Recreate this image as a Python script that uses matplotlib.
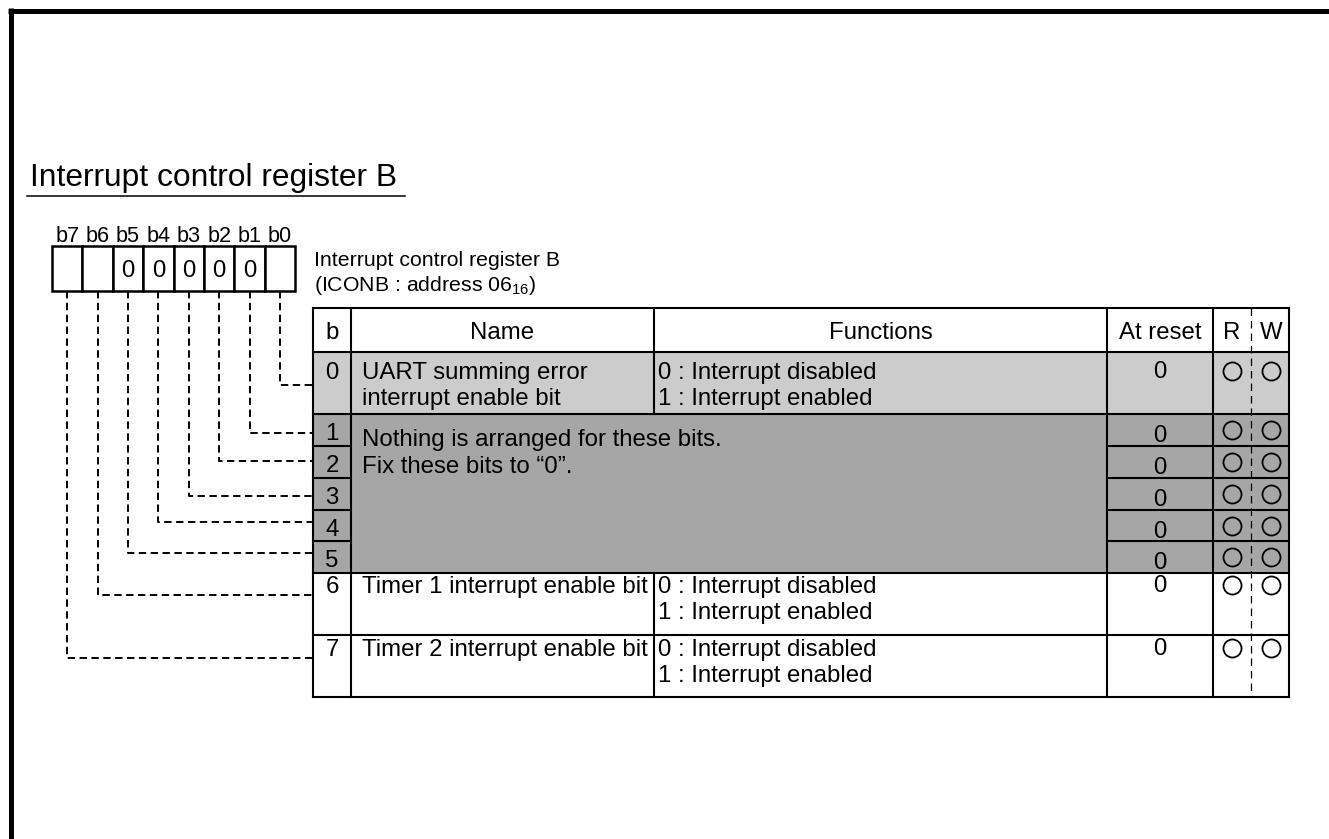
import matplotlib
matplotlib.use("Agg")
import matplotlib.pyplot as plt
from matplotlib.patches import Rectangle

plt.rcParams['font.family'] = ['Liberation Sans', 'DejaVu Sans']
plt.rcParams['mathtext.fontset'] = 'custom'
plt.rcParams['mathtext.rm'] = 'Liberation Sans'

##### DATA #####
title = "Interrupt control register B"
reg_name = "Interrupt control register B"
reg_addr = r"(ICONB : address $\mathregular{06_{16}}$)"
bit_labels = ['b7', 'b6', 'b5', 'b4', 'b3', 'b2', 'b1', 'b0']
reg_values = ['', '', '0', '0', '0', '0', '0', '']
headers = ['b', 'Name', 'Functions', 'At reset', 'R', 'W']
row_bits = ['0', '1', '2', '3', '4', '5', '6', '7']
names = [['UART summing error', 'interrupt enable bit'],
         ['Nothing is arranged for these bits.', 'Fix these bits to \u201c0\u201d.'],
         [], [], [], [],
         ['Timer 1 interrupt enable bit'],
         ['Timer 2 interrupt enable bit']]
functions = [['0 : Interrupt disabled', '1 : Interrupt enabled'],
             [], [], [], [], [],
             ['0 : Interrupt disabled', '1 : Interrupt enabled'],
             ['0 : Interrupt disabled', '1 : Interrupt enabled']]
reset_values = ['0', '0', '0', '0', '0', '0', '0', '0']
readable = [True] * 8
writable = [True] * 8

##### LAYOUT (pixels) #####
W, H = 1329, 839
FS = 17.3        # table font size
DY = 2           # small downward nudge for centred text
col_x = [313, 351, 654, 1107, 1213, 1251, 1289]
head_top, head_bot = 308, 352
row_edges = [352, 414, 446, 478, 510, 541, 573, 635, 697]
first_line = [19, 24, 0, 0, 0, 0, 12, 13]  # offset of first text line in a row (0 = centered)
line_gap = 26
light_gray = '#cccccc'
dark_gray = '#a6a6a6'
reg_left, reg_cell, reg_top, reg_bot = 52, 30.4, 246, 291
conn_y = [385, 433, 461, 496, 522, 553, 595, 658]  # for b0..b7

fig = plt.figure(figsize=(W / 100, H / 100), dpi=100)
ax = fig.add_axes([0, 0, 1, 1])
ax.set_xlim(0, W)
ax.set_ylim(H, 0)
ax.axis('off')

# page border
ax.plot([8, W], [10.5, 10.5], color='black', lw=3.6, solid_capstyle='butt')
ax.plot([10.5, 10.5], [8, H], color='black', lw=3.6, solid_capstyle='butt')

# title
ax.text(30, 186, title, fontsize=22.9, va='baseline', ha='left')
ax.plot([27, 405], [196, 196], color='black', lw=1.1)

# register boxes
for i, lab in enumerate(bit_labels):
    x0 = reg_left + i * reg_cell
    ax.add_patch(Rectangle((x0, reg_top), reg_cell, reg_bot - reg_top,
                           facecolor='white', edgecolor='black', lw=1.8))
    ax.text(x0 + reg_cell / 2, 242, lab, fontsize=15.6, ha='center', va='baseline')
    if reg_values[i]:
        ax.text(x0 + reg_cell / 2, 269 + DY, reg_values[i], fontsize=FS,
                ha='center', va='center')

ax.text(314, 266, reg_name, fontsize=15.3, va='baseline')
ax.text(314, 291, reg_addr, fontsize=15.3, va='baseline')

# dashed connectors from register bits to table rows
for i in range(8):
    bit = 7 - i
    xc = reg_left + i * reg_cell + reg_cell / 2
    yc = conn_y[bit]
    ax.plot([xc, xc, col_x[0]], [reg_bot, yc, yc], color='black', lw=1.4,
            dashes=(3.8, 2.3))

# table fills
ax.add_patch(Rectangle((col_x[0], row_edges[0]), col_x[-1] - col_x[0],
                       row_edges[1] - row_edges[0], facecolor=light_gray, lw=0))
ax.add_patch(Rectangle((col_x[0], row_edges[1]), col_x[-1] - col_x[0],
                       row_edges[6] - row_edges[1], facecolor=dark_gray, lw=0))

LW = 1.5
def hline(y, x0, x1):
    ax.plot([x0, x1], [y, y], color='black', lw=LW, solid_capstyle='projecting')

def vline(x, y0, y1):
    ax.plot([x, x], [y0, y1], color='black', lw=LW, solid_capstyle='projecting')

# outer frame and rows
hline(head_top, col_x[0], col_x[-1])
hline(head_bot, col_x[0], col_x[-1])
for k in range(1, len(row_edges)):
    y = row_edges[k]
    if 2 <= k <= 5:
        hline(y, col_x[0], col_x[1])
        hline(y, col_x[3], col_x[-1])
    else:
        hline(y, col_x[0], col_x[-1])
vline(col_x[0], head_top, row_edges[-1])
vline(col_x[1], head_top, row_edges[-1])
vline(col_x[2], head_top, row_edges[1])
vline(col_x[2], row_edges[6], row_edges[-1])
vline(col_x[3], head_top, row_edges[-1])
vline(col_x[4], head_top, row_edges[-1])
vline(col_x[-1], head_top, row_edges[-1])
ax.plot([col_x[5], col_x[5]], [head_top, row_edges[-1]], color='black', lw=0.9,
        dashes=(6, 4))

# header text
hy = (head_top + head_bot) / 2 + 1 + DY
ax.text((col_x[0] + col_x[1]) / 2, hy, headers[0], fontsize=FS, ha='center', va='center')
ax.text((col_x[1] + col_x[2]) / 2, hy, headers[1], fontsize=FS, ha='center', va='center')
ax.text((col_x[2] + col_x[3]) / 2, hy, headers[2], fontsize=FS, ha='center', va='center')
ax.text((col_x[3] + col_x[4]) / 2, hy, headers[3], fontsize=FS, ha='center', va='center')
ax.text(1232, hy, headers[4], fontsize=FS, ha='center', va='center')
ax.text(1271, hy, headers[5], fontsize=FS, ha='center', va='center')

# rows
for r in range(8):
    top, bot = row_edges[r], row_edges[r + 1]
    mid = (top + bot) / 2
    ty = top + first_line[r] if first_line[r] else mid
    ax.text((col_x[0] + col_x[1]) / 2, (ty if r not in (1,) else mid) + DY + (2 if 1 <= r <= 5 else 0),
            row_bits[r], fontsize=FS, ha='center', va='center')
    for j, s in enumerate(names[r]):
        ax.text(col_x[1] + 11, ty + DY + j * (line_gap + (1 if r == 1 else 0)), s,
                fontsize=FS, ha='left', va='center')
    for j, s in enumerate(functions[r]):
        ax.text(col_x[2] + 4, ty + DY + j * line_gap, s, fontsize=FS,
                ha='left', va='center')
    if r == 0 or r >= 6:
        cy = ty
        ry = ty + DY - 1
    else:
        cy = mid
        ry = mid + 4 + DY
    ax.text((col_x[3] + col_x[4]) / 2, ry, reset_values[r], fontsize=FS,
            ha='center', va='center')
    if readable[r]:
        ax.plot(1232, cy, 'o', ms=13, mfc='none', mec='black', mew=1.3)
    if writable[r]:
        ax.plot(1271, cy, 'o', ms=13, mfc='none', mec='black', mew=1.3)

fig.savefig('out.png', dpi=100)
